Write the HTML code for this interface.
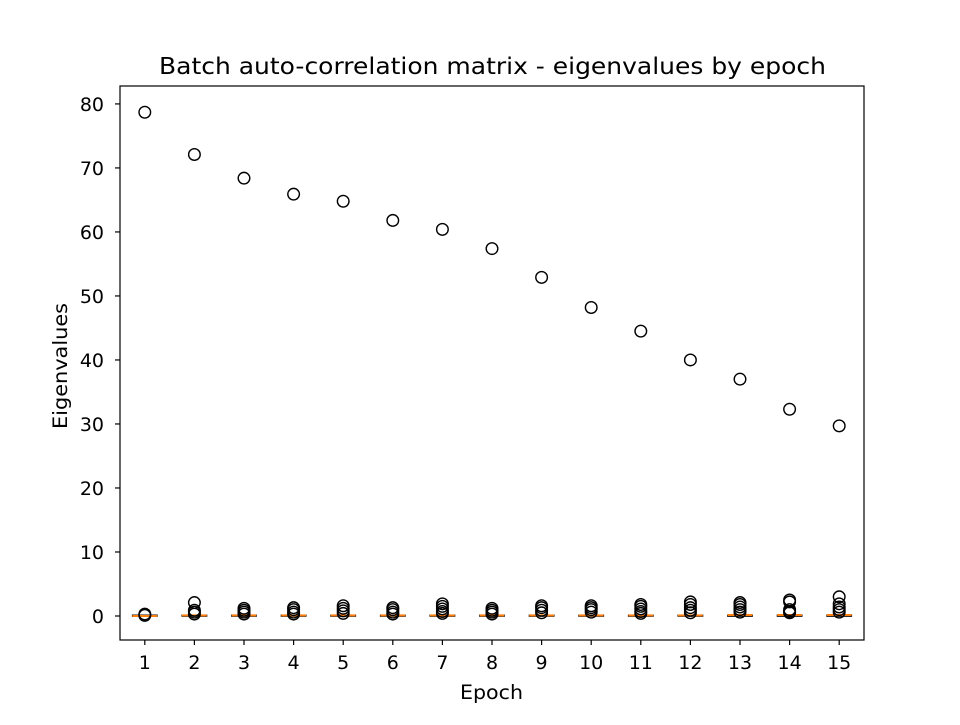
<!DOCTYPE html>
<html><head><meta charset="utf-8"><style>
body{margin:0;background:#fff;font-family:"Liberation Sans","DejaVu Sans",sans-serif}
</style></head><body>
<svg id="chart" width="960" height="720" xmlns="http://www.w3.org/2000/svg" font-family="DejaVu Sans, Liberation Sans, sans-serif">
<rect width="960" height="720" fill="#fff"/>
<text x="159" y="74" font-size="23" textLength="667" lengthAdjust="spacingAndGlyphs">Batch auto-correlation matrix - eigenvalues by epoch</text>
<text x="460" y="699" font-size="19.5" textLength="63" lengthAdjust="spacingAndGlyphs">Epoch</text>
<text transform="translate(67,366) rotate(-90)" font-size="19.5" text-anchor="middle" textLength="126" lengthAdjust="spacingAndGlyphs">Eigenvalues</text>
<g id="marks"></g>
<g id="axes"></g>
<rect x="120" y="86" width="744" height="554" fill="none" stroke="#000" stroke-width="1.2"/>
</svg>
<script>
const epochs=[1,2,3,4,5,6,7,8,9,10,11,12,13,14,15];
const topEigen=[78.7,72.1,68.4,65.9,64.8,61.8,60.4,57.4,52.9,48.2,44.5,40.0,37.0,32.3,29.7];
const smallOutliers=[[0.3,0.1],[2.1,0.9,0.6,0.3],[1.2,0.9,0.6,0.3],[1.3,1.0,0.6,0.3],[1.6,1.2,0.8,0.4],[1.3,1.0,0.6,0.3],[1.9,1.5,1.1,0.7,0.4],[1.2,0.9,0.6,0.3],[1.6,1.3,0.9,0.5],[1.6,1.3,1.0,0.6],[1.8,1.5,1.1,0.7,0.4],[2.2,1.8,1.3,0.9,0.5],[2.1,1.8,1.4,1.0,0.6],[2.5,2.2,1.0,0.7,0.5],[3.0,1.9,1.4,1.0,0.6]];
const medians=[0,0.1,0.1,0.1,0.1,0.1,0.1,0.1,0.1,0.1,0.1,0.1,0.15,0.15,0.15];
const yTicks=[0,10,20,30,40,50,60,70,80];
const X0=120,X1=864,Y0=86,Y1=640,xmin=0.5,xmax=15.5,ymin=-3.75,ymax=82.8;
const sx=v=>X0+(v-xmin)/(xmax-xmin)*(X1-X0);
const sy=v=>Y1-(v-ymin)/(ymax-ymin)*(Y1-Y0);
const NS="http://www.w3.org/2000/svg";
function mk(t,a,p){const e=document.createElementNS(NS,t);for(const k in a)e.setAttribute(k,a[k]);p.appendChild(e);return e;}
const marks=document.getElementById('marks'),axes=document.getElementById('axes');
epochs.forEach((ep,i)=>{
  const cx=sx(ep),hw=12.4;
  const b=mk('rect',{x:cx-hw,y:sy(0.15),width:2*hw,height:Math.max(1,sy(-0.05)-sy(0.15)),fill:'none',stroke:'#000','stroke-width':1},marks);
  
  
  const m=mk('line',{x1:cx-hw,x2:cx+hw,y1:sy(medians[i]),y2:sy(medians[i]),stroke:'#ff7f0e','stroke-width':2},marks);
  
  
  smallOutliers[i].concat([topEigen[i]]).forEach(v=>{
    const c=mk('circle',{cx:cx,cy:sy(v),r:5.8,fill:'none',stroke:'#000','stroke-width':1.4},marks);
    
    
  });
  mk('line',{x1:cx,x2:cx,y1:Y1,y2:Y1+5,stroke:'#000','stroke-width':1.2},axes);
  const t=mk('text',{x:cx,y:Y1+29,'font-size':19,'text-anchor':'middle'},axes);
  t.textContent=ep;
  
  
});
yTicks.forEach(v=>{
  const y=sy(v);
  mk('line',{x1:X0-5,x2:X0,y1:y,y2:y,stroke:'#000','stroke-width':1.2},axes);
  const t=mk('text',{x:X0-16,y:y+7,'font-size':19,'text-anchor':'end'},axes);
  t.textContent=v;
  
  
});
</script>
</body></html>
